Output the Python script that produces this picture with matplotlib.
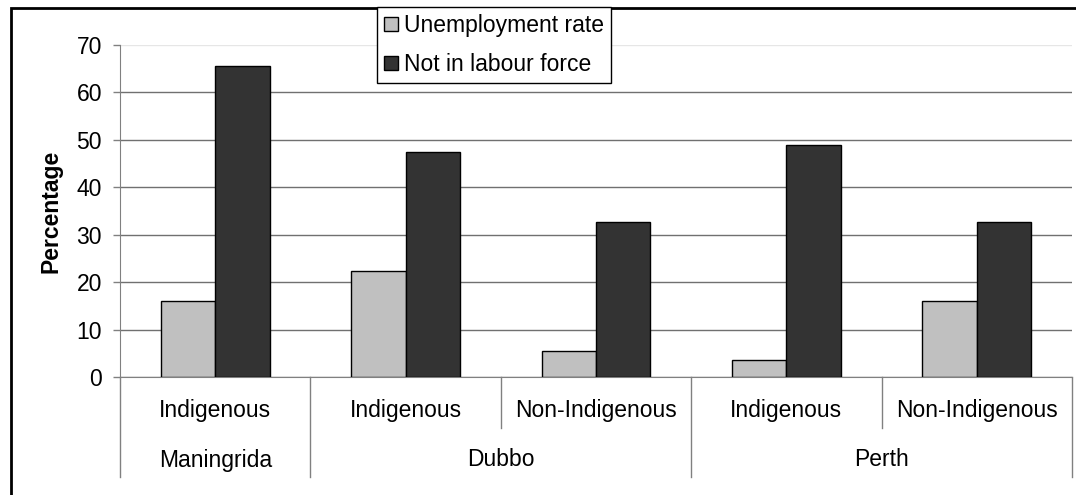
import numpy as np
import matplotlib.pyplot as plt
from matplotlib.patches import Rectangle
from matplotlib.lines import Line2D

plt.rcParams['font.family'] = ['Liberation Sans', 'DejaVu Sans']

# data
places = ['Maningrida', 'Dubbo', 'Perth']
groups = ['Indigenous', 'Indigenous', 'Non-Indigenous', 'Indigenous', 'Non-Indigenous']
group_place = [0, 1, 1, 2, 2]
unemployment = [16.1, 22.4, 5.4, 3.6, 16.1]
not_in_lf = [65.5, 47.4, 32.7, 48.9, 32.7]
series_names = ['Unemployment rate', 'Not in labour force']
y_ticks = [0, 10, 20, 30, 40, 50, 60, 70]

W, H = 1076, 495
fs = 16.5
fig = plt.figure(figsize=(W / 100, H / 100), dpi=100)
ax = fig.add_axes([120 / W, 1 - 377 / H, (1072 - 120) / W, (377 - 45) / H])

x = np.arange(len(groups))
bw = 0.286
ax.bar(x - bw / 2, unemployment, bw, color='#c0c0c0', edgecolor='black', lw=1, label=series_names[0], zorder=3)
ax.bar(x + bw / 2, not_in_lf, bw, color='#333333', edgecolor='black', lw=1, label=series_names[1], zorder=3)

ax.set_xlim(-0.5, len(groups) - 0.5)
ax.set_ylim(0, 70)
ax.set_yticks(y_ticks)
ax.tick_params(axis='y', labelsize=fs, length=5, width=1, color='#808080', pad=8)
ax.set_xticks([])
ax.yaxis.grid(True, color='#707070', lw=1)
ax.get_ygridlines()[-1].set_color('#e6e6e6')
ax.set_axisbelow(True)
for s in ['top', 'right']:
    ax.spines[s].set_visible(False)
for s in ['left', 'bottom']:
    ax.spines[s].set_color('#808080')
ax.set_ylabel('Percentage', fontsize=fs, fontweight='bold', labelpad=10)

# two-level category axis
ypx = lambda p: (377 - p) / (377 - 45)  # pixel row -> axes fraction
trans = ax.get_xaxis_transform()
for i, g in enumerate(groups):
    ax.text(i, ypx(411), g, transform=trans, ha='center', va='center', fontsize=fs)
for p, name in enumerate(places):
    idx = [i for i, gp in enumerate(group_place) if gp == p]
    ax.text(np.mean(idx), ypx(460), name, transform=trans, ha='center', va='center', fontsize=fs)

# separators
bounds = [-0.5] + [i + 0.5 for i in range(len(groups))]
for b in bounds:
    outer = b == -0.5 or b == len(groups) - 0.5 or group_place[int(b - 0.5)] != group_place[int(b + 0.5)]
    y_end = ypx(477) if outer else ypx(428)
    ax.add_line(Line2D([b, b], [0, y_end], transform=trans, color='#808080', lw=1, clip_on=False))

# legend
leg = fig.legend(loc='upper left', bbox_to_anchor=(377 / W, 1 - 7 / H), fontsize=fs,
                 frameon=True, fancybox=False, edgecolor='black', framealpha=1,
                 handlelength=0.6, handleheight=0.6, handletextpad=0.3,
                 borderpad=0.3, labelspacing=0.7, borderaxespad=0)
leg.get_frame().set_linewidth(1)

# outer chart frame
fig.add_artist(Rectangle((11 / W, -0.1), 1.2, 1 - 8 / H + 0.1, transform=fig.transFigure,
                         fill=False, lw=2, edgecolor='black'))

fig.savefig('out.png', dpi=100)
